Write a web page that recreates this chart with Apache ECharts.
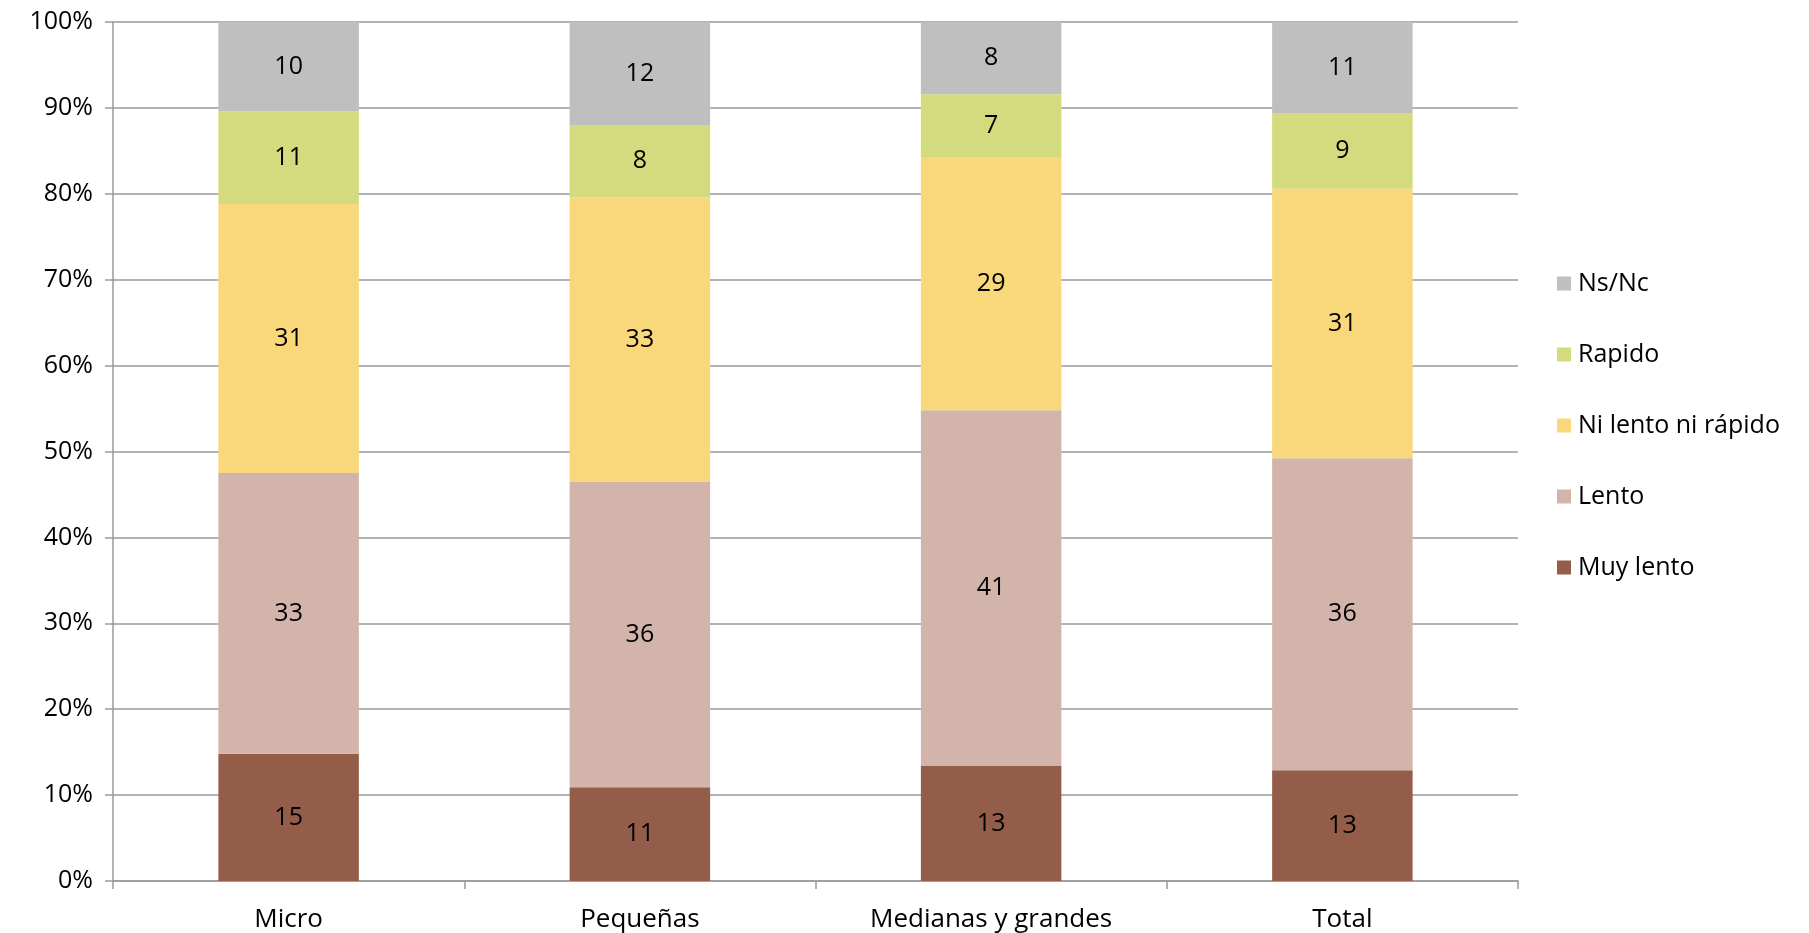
<!DOCTYPE html>
<html><head><meta charset="utf-8">
<script src="https://cdn.jsdelivr.net/npm/echarts@6/dist/echarts.min.js"></script>
<style>html,body{margin:0;padding:0;background:#fff}#c{width:1809px;height:933px}</style>
</head><body><div id="c"></div>
<script>
const categories = ['Micro', 'Pequeñas', 'Medianas y grandes', 'Total'];
const muyLento = [14.8, 10.9, 13.4, 12.9];
const lento = [32.7, 35.6, 41.4, 36.3];
const niLentoNiRapido = [31.3, 33.1, 29.4, 31.4];
const rapido = [10.8, 8.4, 7.4, 8.8];
const nsNc = [10.4, 12.0, 8.4, 10.6];
const yTicks = ['0%','10%','20%','30%','40%','50%','60%','70%','80%','90%','100%'];

const seriesDefs = [
  {name: 'Muy lento', data: muyLento, color: '#945D4A'},
  {name: 'Lento', data: lento, color: '#D3B4AA'},
  {name: 'Ni lento ni rápido', data: niLentoNiRapido, color: '#F9D87B'},
  {name: 'Rapido', data: rapido, color: '#D4DA7E'},
  {name: 'Ns/Nc', data: nsNc, color: '#BFBFBF'}
];
const FONT = 'Open Sans';
const chart = echarts.init(document.getElementById('c'));
chart.setOption({
  animation: false,
  textStyle: {fontFamily: FONT},
  grid: {left: 113, right: 291, top: 22, bottom: 52, containLabel: false},
  legend: {
    orient: 'vertical', left: 1557, top: 271, itemGap: 46, padding: 0,
    itemWidth: 14, itemHeight: 14, icon: 'rect',
    data: ['Ns/Nc', 'Rapido', 'Ni lento ni rápido', 'Lento', 'Muy lento'],
    textStyle: {fontFamily: FONT, fontSize: 25, color: '#000', padding: [0, 0, 0, 2]}
  },
  xAxis: {
    type: 'category', data: categories,
    axisLine: {lineStyle: {color: '#9A9A9A', width: 1.5}},
    axisTick: {show: true, length: 8, lineStyle: {color: '#9A9A9A', width: 1.5}},
    axisLabel: {fontFamily: FONT, fontSize: 26, color: '#000', margin: 26}
  },
  yAxis: {
    type: 'value', min: 0, max: 100, interval: 10,
    axisLine: {show: true, lineStyle: {color: '#9A9A9A', width: 1.5}},
    axisTick: {show: true, length: 8, lineStyle: {color: '#9A9A9A', width: 1.5}},
    splitLine: {lineStyle: {color: '#9A9A9A', width: 1.5}},
    axisLabel: {fontFamily: FONT, fontSize: 25, color: '#000', margin: 20,
      formatter: v => yTicks[Math.round(v / 10)]}
  },
  series: seriesDefs.map(s => ({
    name: s.name, type: 'bar', stack: 'total', data: s.data, barWidth: '40%',
    itemStyle: {color: s.color},
    label: {show: true, position: 'inside', fontFamily: FONT, fontSize: 25, color: '#000',
      formatter: p => String(Math.round(p.value))}
  }))
});
</script></body></html>
